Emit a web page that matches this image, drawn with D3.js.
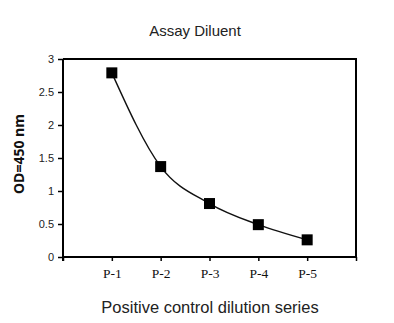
<!DOCTYPE html>
<html><head><meta charset="utf-8">
<script src="https://cdn.jsdelivr.net/npm/d3@7"></script>
<style>body{margin:0;background:#fff}svg{display:block}</style>
</head><body>
<script>
const categories = ["P-1","P-2","P-3","P-4","P-5"];
const values = [2.79, 1.37, 0.81, 0.49, 0.26];
const yTicks = [0, 0.5, 1, 1.5, 2, 2.5, 3];
const yTickLabels = ["0","0.5","1","1.5","2","2.5","3"];
const title = "Assay Diluent";
const xTitle = "Positive control dilution series";
const yTitle = "OD=450 nm";

const W = 394, H = 323;
const m = {left: 63, right: 38, top: 59, bottom: 66};
const svg = d3.select("body").append("svg").attr("width", W).attr("height", H);
const x = d3.scaleLinear().domain([0, 6]).range([m.left, W - m.right]);
const y = d3.scaleLinear().domain([0, 3]).range([H - m.bottom, m.top]);

// frame (top & right)
svg.append("path")
  .attr("d", `M${x(0)},${y(3)}H${x(6)}V${y(0)}`)
  .attr("fill","none").attr("stroke","#000").attr("stroke-width",2);

// y axis
const ya = svg.append("g").attr("transform", `translate(${x(0)},0)`)
  .call(d3.axisLeft(y).tickValues(yTicks).tickFormat((d,i)=>yTickLabels[i]).tickSize(5).tickPadding(4));
ya.select(".domain").attr("stroke-width",2).attr("d", `M0,${y(0)+4}V${y(3)}`);
ya.selectAll(".tick line").attr("stroke-width",1.5);
ya.selectAll("text").attr("font-family","Liberation Sans, Arial, sans-serif").attr("font-size",11).attr("fill","#222");

// x axis
const xa = svg.append("g").attr("transform", `translate(0,${y(0)})`)
  .call(d3.axisBottom(x).tickValues([0,1,2,3,4,5,6]).tickFormat(d => (d>=1 && d<=5) ? categories[d-1] : "").tickSize(4).tickPadding(7));
xa.select(".domain").attr("stroke-width",2).attr("d", `M${x(0)},0H${x(6)}`);
xa.selectAll(".tick line").attr("stroke-width",1.5);
xa.selectAll("text").attr("font-family","Liberation Serif, Times New Roman, serif").attr("font-size",13.5).attr("fill","#111");

// curve
const pts = values.map((v,i)=>[x(i+1), y(v)]);
svg.append("path")
  .attr("d", d3.line().curve(d3.curveMonotoneX)(pts))
  .attr("fill","none").attr("stroke","#111").attr("stroke-width",1.4);

// markers
const s = 11;
svg.selectAll("rect.pt").data(values).join("rect").attr("class","pt")
  .attr("x",(d,i)=>x(i+1)-s/2).attr("y",d=>y(d)-s/2)
  .attr("width",s).attr("height",s).attr("fill","#000");

// titles
svg.append("text").attr("x",195).attr("y",36).attr("text-anchor","middle")
  .attr("font-family","Liberation Sans, Arial, sans-serif").attr("font-size",15).attr("fill","#222").text(title);
svg.append("text").attr("x",210).attr("y",313).attr("text-anchor","middle")
  .attr("font-family","Liberation Sans, Arial, sans-serif").attr("font-size",16.5).attr("fill","#222").text(xTitle);
svg.append("text").attr("transform","translate(24,154) rotate(-90)").attr("text-anchor","middle")
  .attr("font-family","Open Sans, DejaVu Sans, sans-serif").attr("font-weight","bold").attr("font-size",14).attr("fill","#111").text(yTitle);
</script>
</body></html>
